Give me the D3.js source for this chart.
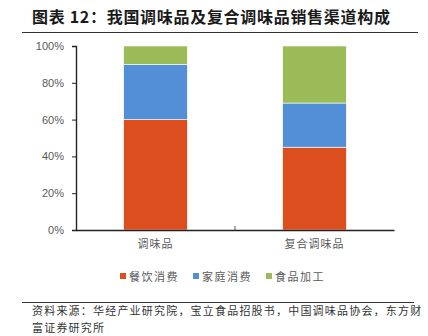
<!DOCTYPE html>
<html>
<head>
<meta charset="utf-8">
<script src="https://cdn.jsdelivr.net/npm/d3@7"></script>
<style>
  html, body { margin: 0; padding: 0; background: #fff; }
  svg { display: block; }
</style>
</head>
<body>
<svg id="chart" width="428" height="336"></svg>
<script>
// Sales channel mix (%) for seasonings vs. compound seasonings
const categories = ["调味品", "复合调味品"];
const seriesNames = ["餐饮消费", "家庭消费", "食品加工"];
const catering = [60, 45];
const household = [30, 24];
const foodProcessing = [10, 31];
const yTicks = [0, 20, 40, 60, 80, 100];
const seriesColors = ["#DC4E1E", "#538FD6", "#9BBB59"];

const svg = d3.select("#chart");
const font = "'Noto Sans CJK SC', 'Noto Sans', sans-serif";

// Title and rules
svg.append("text")
  .attr("x", 32).attr("y", 23)
  .attr("font-family", font).attr("font-size", 16).attr("font-weight", "bold")
  .attr("letter-spacing", 0.7)
  .attr("fill", "#1a1a1a")
  .text("图表 12：我国调味品及复合调味品销售渠道构成");
svg.append("line").attr("x1", 22).attr("x2", 418).attr("y1", 32.5).attr("y2", 32.5)
  .attr("stroke", "#333").attr("stroke-width", 1);

const margin = { left: 76, right: 34, top: 46, bottom: 106 };
const width = 428 - margin.left - margin.right;
const height = 336 - margin.top - margin.bottom;

const g = svg.append("g").attr("transform", `translate(${margin.left},${margin.top})`);

const x = d3.scaleBand().domain(categories).range([0, width]).paddingInner(0.6).paddingOuter(0.3);
const y = d3.scaleLinear().domain([0, 100]).range([height, 0]);

const rows = categories.map((c, i) => ({
  cat: c, "餐饮消费": catering[i], "家庭消费": household[i], "食品加工": foodProcessing[i]
}));
const stacked = d3.stack().keys(seriesNames)(rows);

g.selectAll("g.series").data(stacked).join("g")
  .attr("class", "series")
  .attr("fill", (d, i) => seriesColors[i])
  .selectAll("rect").data(d => d).join("rect")
  .attr("x", d => x(d.data.cat))
  .attr("width", x.bandwidth())
  .attr("y", d => y(d[1]))
  .attr("height", d => y(d[0]) - y(d[1]))
  .attr("stroke", "#fff").attr("stroke-width", 0.6);

// Y axis
const yAxis = g.append("g")
  .call(d3.axisLeft(y).tickValues(yTicks).tickFormat(d => d + "%").tickSize(4).tickPadding(8));
yAxis.select(".domain").attr("stroke", "#222").attr("stroke-width", 1.4);
yAxis.selectAll(".tick line").attr("stroke", "#222");
yAxis.selectAll(".tick text").attr("fill", "#595959").attr("font-size", 11)
  .attr("font-family", "'Liberation Sans', Arial, sans-serif");

// X axis
const xAxis = g.append("g").attr("transform", `translate(0,${height})`)
  .call(d3.axisBottom(x).tickSize(0).tickPadding(10));
xAxis.select(".domain").attr("stroke", "#222").attr("stroke-width", 1.4);
xAxis.selectAll(".tick text").attr("fill", "#595959").attr("font-size", 11)
  .attr("letter-spacing", 1).attr("font-family", font);
// Divider tick between the two categories
xAxis.append("line")
  .attr("x1", width / 2).attr("x2", width / 2).attr("y1", 0).attr("y2", -4)
  .attr("stroke", "#555").attr("stroke-width", 1);

// Legend
const legendX = [120, 193, 266];
const legend = svg.append("g").attr("transform", "translate(0,277)");
seriesNames.forEach((name, i) => {
  legend.append("rect").attr("x", legendX[i]).attr("y", -4).attr("width", 6).attr("height", 6)
    .attr("fill", seriesColors[i]);
  legend.append("text").attr("x", legendX[i] + 9).attr("y", 0).attr("dy", "0.35em")
    .attr("font-family", font).attr("font-size", 11).attr("fill", "#595959")
    .attr("letter-spacing", 1.5)
    .text(name);
});

// Source note
svg.append("line").attr("x1", 22).attr("x2", 414).attr("y1", 302.5).attr("y2", 302.5)
  .attr("stroke", "#333").attr("stroke-width", 1);
const note = ["资料来源：华经产业研究院，宝立食品招股书，中国调味品协会，东方财", "富证券研究所"];
note.forEach((t, i) => {
  svg.append("text").attr("x", 32).attr("y", 315 + i * 17)
    .attr("font-family", font).attr("font-size", 11).attr("fill", "#333")
    .attr("letter-spacing", 1.2)
    .text(t);
});
</script>
</body>
</html>
